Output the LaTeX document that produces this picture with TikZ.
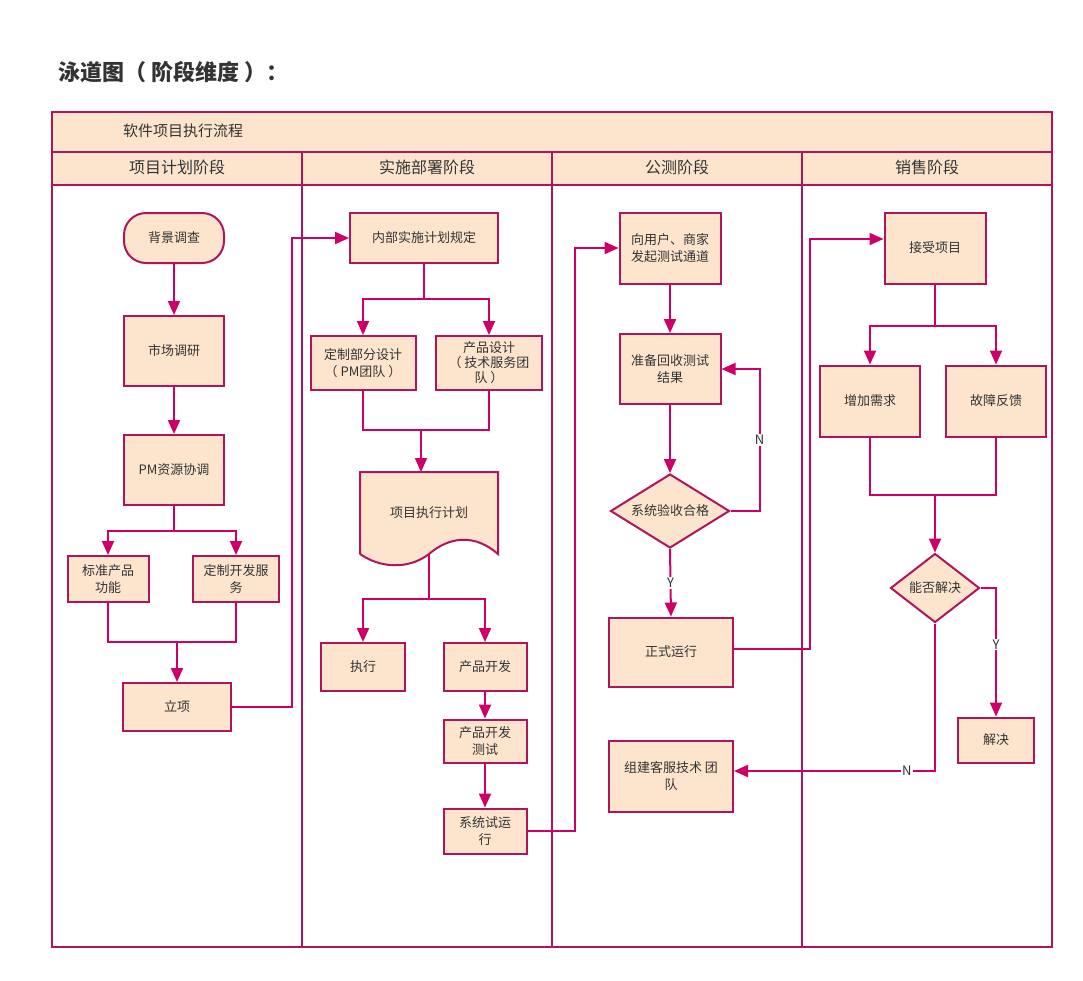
\documentclass[tikz,border=0pt]{standalone}
\usepackage{fontspec}
\setmainfont{Noto Sans CJK SC}
\usetikzlibrary{arrows.meta,shapes.geometric}
\definecolor{framec}{RGB}{176,20,92}
\definecolor{flowc}{RGB}{204,0,102}
\definecolor{boxc}{RGB}{253,229,205}
\definecolor{textc}{RGB}{51,51,51}
\tikzset{
  box/.style={draw=framec,fill=boxc,line width=2pt,text=textc,align=center,inner sep=2pt,font=\fontsize{13}{17}\selectfont},
  term/.style={box,rounded corners=22pt},
  decision/.style={box,diamond,inner sep=0pt},
  flow/.style={draw=flowc,line width=2pt,-{Triangle[length=14pt,width=12pt]}},
  link/.style={draw=flowc,line width=2pt},
  lane/.style={draw=framec,line width=2pt},
  tag/.style={fill=white,inner sep=1pt,text=textc,font=\fontsize{13}{15}\selectfont}
}
\begin{document}
\begin{tikzpicture}[x=1pt,y=-1pt]
\useasboundingbox (0,0) rectangle (1083,980);

% Title
\node[anchor=west,text=textc,font=\fontsize{22}{26}\selectfont\bfseries] (title) at (55,72) {泳道图（ 阶段维度 ）：};

% Drawing lanes
\draw[lane,fill=boxc] (52,112) rectangle (1052,185);
\draw[lane] (52,112) rectangle (1052,947);
\draw[lane] (52,152) -- (1052,152);
\draw[lane] (52,185) -- (1052,185);
\foreach \x in {302,552,802}
  \draw[lane] (\x,152) -- (\x,947);
\node[text=textc,font=\fontsize{15}{17}\selectfont] (head) at (183,131) {软件项目执行流程};
\node[text=textc,font=\fontsize{16}{18}\selectfont] (lane1) at (177,167) {项目计划阶段};
\node[text=textc,font=\fontsize{16}{18}\selectfont] (lane2) at (427,167) {实施部署阶段};
\node[text=textc,font=\fontsize{16}{18}\selectfont] (lane3) at (677,167) {公测阶段};
\node[text=textc,font=\fontsize{16}{18}\selectfont] (lane4) at (927,167) {销售阶段};

% Lane 1: planning
\node[term,minimum width=100pt,minimum height=50pt] (survey) at (174,238) {背景调查};
\node[box,minimum width=100pt,minimum height=70pt] (market) at (174,351) {市场调研};
\node[box,minimum width=100pt,minimum height=70pt] (pmres) at (174,470) {PM资源协调};
\node[box,minimum width=81pt,minimum height=46pt] (std) at (108,579) {标准产品\\功能};
\node[box,minimum width=86pt,minimum height=46pt] (custom) at (236,579) {定制开发服\\务};
\node[box,minimum width=108pt,minimum height=48pt] (setup) at (177,707) {立项};
\coordinate (join1) at (177,642);

\draw[flow] (survey) -- (market);
\draw[flow] (market) -- (pmres);
\draw[flow] (pmres.south) -- ++(0,25) -| (std.north);
\draw[flow] (pmres.south) -- ++(0,25) -| (custom.north);
\draw[link] (std.south) |- (join1) -| (custom.south);
\draw[flow] (join1) -- (setup.north);

% Lane 2: deployment
\node[box,minimum width=148pt,minimum height=50pt] (inner) at (424,238) {内部实施计划规定};
\node[box,minimum width=105pt,minimum height=54pt] (pmdesign) at (363,363) {定制部分设计\\（ PM团队 ）};
\node[box,minimum width=106pt,minimum height=54pt,font=\fontsize{13}{15}\selectfont] (prodesign) at (489,363) {产品设计\\（ 技术服务团\\队 ）};
\node[box,draw=none,fill=none,minimum width=136pt,minimum height=80pt] (plan) at (429,513) {};
\node[box,minimum width=84pt,minimum height=48pt] (exec) at (363,667) {执行};
\node[box,minimum width=83pt,minimum height=48pt] (dev) at (485,667) {产品开发};
\node[box,minimum width=83pt,minimum height=43pt] (devtest) at (485,741) {产品开发\\测试};
\node[box,minimum width=83pt,minimum height=45pt] (trial) at (485,831) {系统试运\\行};
\coordinate (join2) at (421,430);

% Drawing document shape
\draw[draw=framec,fill=boxc,line width=2pt] (plan.south west) -- (plan.north west) -- (plan.north east) -- (plan.south east)
  .. controls (475,534) and (450,536) .. (plan.south) .. controls (408,570) and (380,568) .. (plan.south west);
\node[text=textc,font=\fontsize{13}{17}\selectfont] at (plan) {项目执行计划};

\draw[flow] (setup.east) -- ++(60,0) |- (inner.west);
\draw[flow] (inner.south) -- ++(0,35) -| (pmdesign.north);
\draw[flow] (inner.south) -- ++(0,35) -| (prodesign.north);
\draw[link] (pmdesign.south) |- (join2) -| (prodesign.south);
\draw[flow] (join2) -- (join2 |- plan.north);
\draw[flow] (plan.south) -- ++(0,45) -| (exec.north);
\draw[flow] (plan.south) -- ++(0,45) -| (dev.north);
\draw[flow] (dev) -- (devtest);
\draw[flow] (devtest) -- (trial);

% Lane 3: public test
\node[box,minimum width=101pt,minimum height=71pt] (open) at (670,248) {向用户、商家\\发起测试通道};
\node[box,minimum width=101pt,minimum height=70pt] (prep) at (670,369) {准备回收测试\\结果};
\node[decision,aspect=1.6,minimum width=119pt,minimum height=74pt] (check) at (670,511) {系统验收合格};
\node[box,minimum width=124pt,minimum height=69pt] (run) at (671,652) {正式运行};
\node[box,minimum width=124pt,minimum height=71pt] (team) at (671,776) {组建客服技术 团\\队};

\draw[flow] (trial.east) -- ++(47,0) |- (open.west);
\draw[flow] (open) -- (prep);
\draw[flow] (prep) -- (check);
\draw[flow] (check.east) -- ++(29,0) |- (prep.east) node[pos=0.25,tag] {N};
\draw[flow] (check.south) -- node[tag] {Y} (run.north);

% Lane 4: sales
\node[box,minimum width=101pt,minimum height=71pt] (accept) at (935,248) {接受项目};
\node[box,minimum width=100pt,minimum height=71pt] (demand) at (870,401) {增加需求};
\node[box,minimum width=100pt,minimum height=71pt] (fault) at (996,401) {故障反馈};
\node[decision,aspect=1.29,minimum width=89pt,minimum height=69pt] (solve) at (935,588) {能否解决};
\node[box,minimum width=76pt,minimum height=45pt] (done) at (996,740) {解决};
\coordinate (join4) at (935,495);

\draw[flow] ([yshift=3pt]run.east) -- ++(76,0) |- ([yshift=9pt]accept.west);
\draw[flow] (accept.south) -- ++(0,41) -| (demand.north);
\draw[flow] (accept.south) -- ++(0,41) -| (fault.north);
\draw[link] (demand.south) |- (join4) -| (fault.south);
\draw[flow] (join4) -- (solve.north);
\draw[flow] (solve.east) -| node[pos=0.72,tag] {Y} (done.north);
\draw[flow] (solve.south) |- node[pos=0.57,tag] {N} ([yshift=5pt]team.east);
\end{tikzpicture}
\end{document}
